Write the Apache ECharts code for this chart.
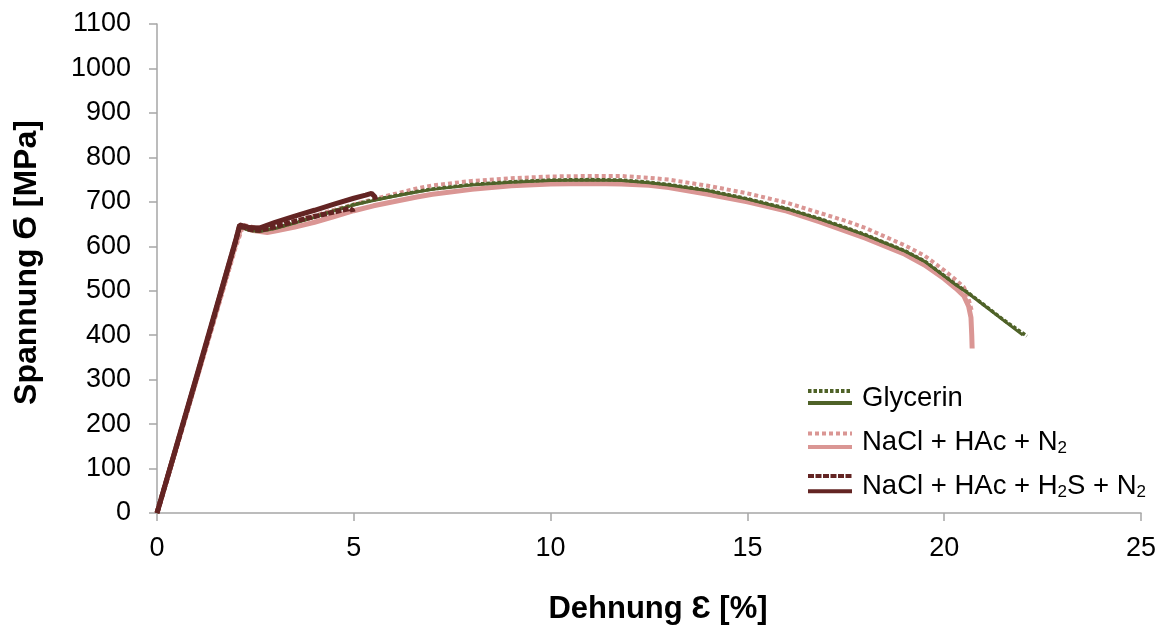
<!DOCTYPE html>
<html>
<head>
<meta charset="utf-8">
<script src="https://cdn.jsdelivr.net/npm/echarts@6/dist/echarts.min.js"></script>
<style>html,body{margin:0;padding:0;background:#fff}#c{width:1165px;height:630px}</style>
</head>
<body>
<div id="c"></div>
<script>
// ---- data (strain in %, stress in MPa) ----
const xTicks = [0, 5, 10, 15, 20, 25];
const yTicks = [0, 100, 200, 300, 400, 500, 600, 700, 800, 900, 1000, 1100];

const glyStrain = [0, 0.5, 1, 1.5, 2, 2.1, 2.2, 2.35, 2.6, 3, 3.5, 4, 4.5, 5, 5.5, 6, 6.6, 7, 8, 9, 10, 11, 11.8, 12.5, 13, 14, 14.3, 15, 16, 16.84, 17.5, 18, 19, 19.5, 20, 20.3, 20.6, 21, 21.5, 22];
const glyStress = [0, 152, 304, 456, 610, 643, 642, 636, 633, 640, 652, 665, 680, 693, 703, 712, 722, 728, 738, 744, 748, 749, 748, 743, 738, 725, 719, 706, 684, 661, 641, 625, 589, 566, 533, 513, 495, 468, 434, 400];

const glyDotStrain = [0, 0.5, 1, 1.5, 2, 2.1, 2.2, 2.35, 2.6, 3, 3.5, 4, 4.5, 5, 5.5, 6, 6.6, 7, 8, 9, 10, 11, 11.8, 12.5, 13, 14, 14.3, 15, 16, 16.84, 17.5, 18, 19, 19.5, 20, 20.3, 20.6, 21, 21.5, 22.1];
const glyDotStress = [0, 150, 302, 455, 608, 642, 641, 636, 634, 641, 653, 666, 680, 694, 704, 713, 723, 729, 739, 745, 749, 750, 749, 744, 739, 726, 720, 707, 685, 662, 642, 626, 590, 567, 534, 514, 496, 469, 435, 398];

const naclStrain = [0, 0.5, 1, 1.5, 2, 2.15, 2.25, 2.4, 2.8, 3, 3.5, 4, 4.5, 5, 5.5, 6, 6.6, 7, 8, 9, 10, 11, 11.8, 12.5, 13, 14, 14.3, 15, 16, 16.84, 17.5, 18, 19, 19.5, 20, 20.3, 20.5, 20.62, 20.68, 20.7, 20.71];
const naclStress = [0, 150, 300, 452, 606, 645, 642, 636, 631, 634, 643, 654, 667, 680, 691, 700, 711, 717, 728, 736, 740, 741, 740, 737, 732, 717, 712, 700, 679, 655, 634, 618, 582, 558, 527, 505, 488, 465, 440, 400, 370];

const naclDotStrain = [0, 0.5, 1, 1.5, 2, 2.2, 2.35, 2.5, 2.8, 3, 3.5, 4, 4.5, 5, 5.5, 6, 6.6, 7, 8, 9, 10, 10.9, 11.8, 12.5, 13, 14, 14.3, 15, 16, 16.8, 17.5, 18, 19, 19.5, 20, 20.3, 20.5, 20.6, 20.7];
const naclDotStress = [0, 146, 296, 446, 598, 648, 645, 642, 642, 646, 657, 669, 682, 694, 706, 717, 730, 737, 747, 753, 757, 758, 758, 754, 750, 736, 731, 719, 698, 676, 657, 641, 602, 579, 546, 524, 508, 488, 455];

const h2sStrain = [0, 0.5, 1, 1.5, 2, 2.1, 2.2, 2.35, 2.6, 3, 3.5, 4, 4.5, 5, 5.3, 5.45, 5.5, 5.53, 5.56];
const h2sStress = [0, 153, 306, 460, 614, 648, 646, 642, 641, 654, 668, 681, 695, 708, 715, 719, 718, 712, 705];

const h2sDotStrain = [0, 0.5, 1, 1.5, 2, 2.1, 2.2, 2.35, 2.6, 3, 3.5, 4, 4.5, 4.9, 4.95, 4.97, 4.98];
const h2sDotStress = [0, 151, 303, 457, 612, 646, 643, 638, 636, 644, 656, 667, 677, 685, 686, 681, 677];

const legendNames = ['Glycerin', 'NaCl + HAc + N2', 'NaCl + HAc + H2S + N2'];
const legendDotNames = ['Glycerin (gepunktet)', 'NaCl + HAc + N2 (gepunktet)', 'NaCl + HAc + H2S + N2 (gepunktet)'];

const zip = (a, b) => a.map((v, i) => [v, b[i]]);

const GREEN = '#4F6228', PINK = '#DA9694', DARK = '#632423';
const FONT = 'Liberation Sans, Arial, sans-serif';

function line(name, xs, ys, color, width, type, z) {
  return {
    name, type: 'line', data: zip(xs, ys), symbol: 'none', showSymbol: false,
    lineStyle: { color, width, type, cap: 'butt' }, itemStyle: { color },
    z, animation: false, silent: true
  };
}

const richFmt = {
  'Glycerin': '{n|Glycerin}',
  'NaCl + HAc + N2': '{n|NaCl + HAc + N}{s|2}',
  'NaCl + HAc + H2S + N2': '{n|NaCl + HAc + H}{s|2}{n|S + N}{s|2}'
};

const chart = echarts.init(document.getElementById('c'), null, { renderer: 'canvas' });
chart.setOption({
  backgroundColor: '#fff',
  animation: false,
  grid: { left: 157, right: 24, top: 24, bottom: 117, containLabel: false },
  xAxis: {
    type: 'value', min: 0, max: 25, interval: 5,
    name: 'Dehnung Ɛ [%]', nameLocation: 'middle', nameGap: 81,
    nameTextStyle: { fontFamily: FONT, fontSize: 31, fontWeight: 'bold', color: '#000', padding: [0, 0, 0, 18] },
    axisLine: { show: true, onZero: false, lineStyle: { color: '#A6A6A6', width: 1.5 } },
    axisTick: { show: true, inside: false, length: 8, lineStyle: { color: '#A6A6A6', width: 1.5 } },
    axisLabel: { fontFamily: FONT, fontSize: 27, color: '#000', margin: 22,
      formatter: v => xTicks.includes(v) ? String(v) : '' },
    splitLine: { show: false }
  },
  yAxis: {
    type: 'value', min: 0, max: 1100, interval: 100,
    name: 'Spannung Ϭ [MPa]', nameLocation: 'middle', nameGap: 114,
    nameTextStyle: { fontFamily: FONT, fontSize: 32, fontWeight: 'bold', color: '#000', padding: [0, 0, 0, 12] },
    axisLine: { show: true, onZero: false, lineStyle: { color: '#A6A6A6', width: 1.5 } },
    axisTick: { show: true, inside: false, length: 8, lineStyle: { color: '#A6A6A6', width: 1.5 } },
    axisLabel: { fontFamily: FONT, fontSize: 27, color: '#000', margin: 26,
      formatter: v => yTicks.includes(v) ? String(v) : '' },
    splitLine: { show: false }
  },
  legend: [
    {
      data: legendDotNames, orient: 'vertical', left: 806, top: 376, padding: 0,
      itemWidth: 44, itemHeight: 30, itemGap: 15.5, selectedMode: false,
      formatter: () => '', textStyle: { fontSize: 8 },
      lineStyle: { width: 4 }, itemStyle: { opacity: 0 }
    },
    {
      data: legendNames, orient: 'vertical', left: 806, top: 384, padding: 0,
      itemWidth: 44, itemHeight: 44, itemGap: 7.5, selectedMode: false,
      formatter: n => richFmt[n],
      lineStyle: { width: 4 }, itemStyle: { opacity: 0 },
      textStyle: {
        fontFamily: FONT, color: '#000', padding: [0, 0, 10, 5],
        rich: {
          n: { fontFamily: FONT, fontSize: 27.5, color: '#000', lineHeight: 30 },
          s: { fontFamily: FONT, fontSize: 17, color: '#000', lineHeight: 16, verticalAlign: 'bottom' }
        }
      }
    }
  ],
  series: [
    line(legendNames[1], naclStrain, naclStress, PINK, 5, 'solid', 2),
    line(legendDotNames[1], naclDotStrain, naclDotStress, PINK, 4, [4, 3], 3),
    line(legendDotNames[0], glyDotStrain, glyDotStress, GREEN, 3.5, [3.5, 2], 4),
    line(legendNames[0], glyStrain, glyStress, GREEN, 3, 'solid', 5),
    line(legendDotNames[2], h2sDotStrain, h2sDotStress, DARK, 5, [6, 1.5], 6),
    line(legendNames[2], h2sStrain, h2sStress, DARK, 5, 'solid', 7)
  ]
});
</script>
</body>
</html>
